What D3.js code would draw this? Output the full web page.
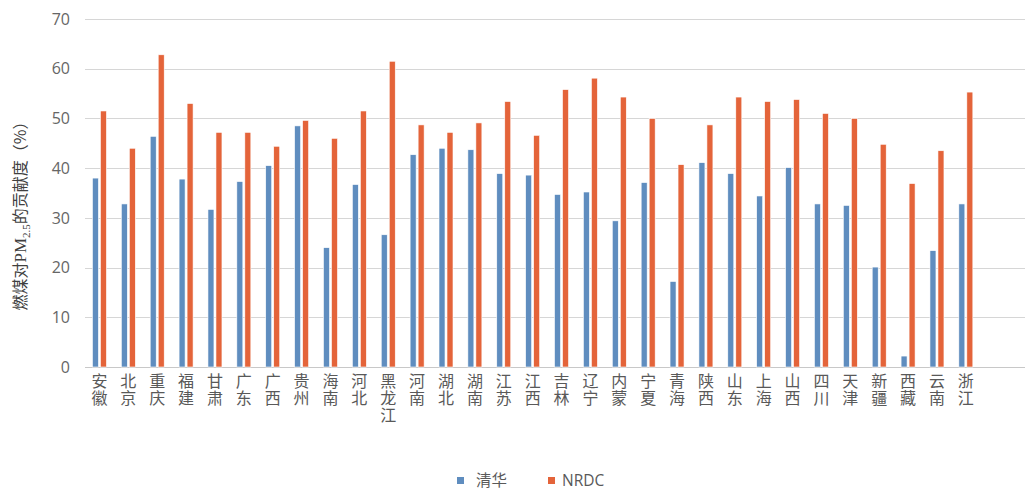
<!DOCTYPE html>
<html>
<head>
<meta charset="utf-8">
<script src="https://cdn.jsdelivr.net/npm/d3@7"></script>
<style>
  html, body { margin: 0; padding: 0; background: #fff; }
  svg { display: block; }
</style>
</head>
<body>
<svg id="chart" width="1025" height="490"></svg>
<script>
// Provinces (x-axis categories)
const categories = ["安徽","北京","重庆","福建","甘肃","广东","广西","贵州","海南","河北","黑龙江","河南","湖北","湖南","江苏","江西","吉林","辽宁","内蒙","宁夏","青海","陕西","山东","上海","山西","四川","天津","新疆","西藏","云南","浙江"];

// Coal-combustion contribution to PM2.5 (%), by source study
const tsinghua = [38.0,32.8,46.4,37.8,31.7,37.3,40.5,48.5,24.0,36.7,26.6,42.7,44.0,43.7,38.9,38.6,34.7,35.2,29.4,37.1,17.2,41.1,38.9,34.4,40.1,32.8,32.5,20.1,2.2,23.4,32.8];
const nrdc     = [51.5,44.0,62.8,53.0,47.2,47.2,44.4,49.6,46.0,51.5,61.5,48.7,47.2,49.1,53.4,46.6,55.8,58.1,54.3,50.0,40.7,48.7,54.3,53.4,53.8,51.0,50.0,44.8,36.9,43.5,55.3];

const seriesNames = ["清华", "NRDC"];
const yTicks = [0, 10, 20, 30, 40, 50, 60, 70];

const colors = { "清华": "#5f8dbf", "NRDC": "#e4643a" };

const svg = d3.select("#chart");
const plotLeft = 85, plotTop = 19, plotBottom = 367;
const step = 28.88;

// One extra empty slot at the right end of the category axis
const slots = categories.concat([""]);
const x = d3.scaleBand().domain(d3.range(slots.length))
  .range([plotLeft, plotLeft + step * slots.length]).paddingInner(0).paddingOuter(0);
const y = d3.scaleLinear().domain([0, 70]).range([plotBottom, plotTop]);

// Horizontal gridlines
svg.append("g").selectAll("line").data(yTicks).join("line")
  .attr("x1", plotLeft).attr("x2", 1025)
  .attr("y1", d => Math.round(y(d)) + 0.5).attr("y2", d => Math.round(y(d)) + 0.5)
  .attr("stroke", d => d === 0 ? "#c8c8c8" : "#d6d6d6")
  .attr("stroke-width", 1.2);

// Y tick labels
svg.append("g").selectAll("text").data(yTicks).join("text")
  .attr("x", 70).attr("y", d => y(d))
  .attr("dy", "0.36em")
  .attr("text-anchor", "end")
  .attr("font-family", "'Open Sans', sans-serif")
  .attr("font-size", 16)
  .attr("fill", "#666")
  .text(d => d);

// Bars
const barW = 6, gap = 2;
const rows = categories.map((c, i) => ({ i, c, a: tsinghua[i], b: nrdc[i] }));
const g = svg.append("g");
rows.forEach(r => {
  const cx = x(r.i) + x.bandwidth() / 2;
  g.append("rect")
    .attr("x", cx - gap / 2 - barW).attr("width", barW)
    .attr("y", y(r.a)).attr("height", y(0) - y(r.a))
    .attr("fill", colors["清华"]).attr("stroke", "#fff").attr("stroke-width", 0.6);
  g.append("rect")
    .attr("x", cx + gap / 2).attr("width", barW)
    .attr("y", y(r.b)).attr("height", y(0) - y(r.b))
    .attr("fill", colors["NRDC"]).attr("stroke", "#fff").attr("stroke-width", 0.6);
});

// X category labels, set in vertical writing mode (characters stacked top to bottom)
svg.append("g").selectAll("text").data(categories).join("text")
  .attr("x", (d, i) => x(i) + x.bandwidth() / 2)
  .attr("y", 373)
  .attr("writing-mode", "vertical-rl")
  .attr("text-anchor", "start")
  .attr("letter-spacing", 1)
  .attr("font-family", "'Noto Sans CJK SC', sans-serif")
  .attr("font-size", 16)
  .attr("fill", "#595959")
  .text(d => d);

// Y axis title
const yt = svg.append("text")
  .attr("transform", "translate(26,212) rotate(-90)")
  .attr("text-anchor", "middle")
  .attr("font-size", 16)
  .attr("fill", "#404040")
  .attr("font-family", "'Noto Sans CJK SC', sans-serif");
yt.append("tspan").text("燃煤对");
yt.append("tspan").attr("font-family", "'Liberation Serif', serif").attr("font-size", 17).text("PM");
yt.append("tspan").attr("font-family", "'Liberation Serif', serif").attr("font-size", 11).attr("dy", 4).text("2.5");
yt.append("tspan").attr("dy", -4).text("的贡献度（%）");

// Legend
const legend = svg.append("g");
const legendItems = [
  { name: seriesNames[0], sx: 457, tx: 476, font: "'Noto Sans CJK SC', sans-serif" },
  { name: seriesNames[1], sx: 548, tx: 562, font: "'Open Sans', sans-serif" }
];
legendItems.forEach(d => {
  legend.append("rect").attr("x", d.sx).attr("y", 477).attr("width", 7).attr("height", 7)
    .attr("fill", colors[d.name]);
  legend.append("text").attr("x", d.tx).attr("y", 480).attr("dy", "0.36em")
    .attr("font-family", d.font)
    .attr("font-size", 15.5).attr("fill", "#595959").text(d.name);
});
</script>
</body>
</html>
